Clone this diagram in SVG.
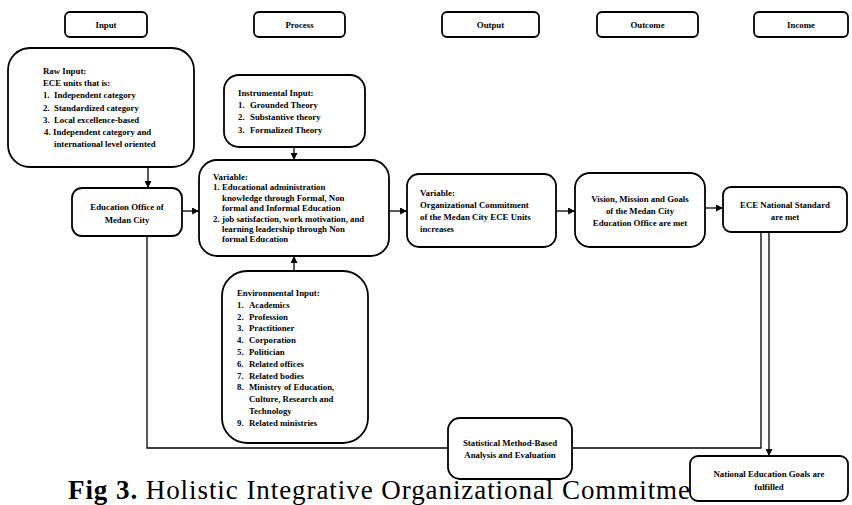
<svg xmlns="http://www.w3.org/2000/svg" width="852" height="505" viewBox="0 0 852 505">
<defs>
<style>
.box{fill:#fff;stroke:#000;stroke-width:1.8}
.t{font-family:"Liberation Serif","Times New Roman",serif;font-weight:bold;font-size:8.8px;fill:#000}
.c{text-anchor:middle}
.ln{fill:none;stroke:#000;stroke-width:1.3}
.cap{font-family:"Liberation Serif","Times New Roman",serif;font-size:27px;fill:#000}
</style>
<marker id="ah" viewBox="0 0 10 10" refX="10" refY="5" markerWidth="7" markerHeight="7" markerUnits="userSpaceOnUse" orient="auto">
<path d="M0,0 L10,5 L0,10 z" fill="#000"/>
</marker>
</defs>
<rect width="852" height="505" fill="#fff"/>

<g id="caption">
<text class="cap" x="68" y="498.5" textLength="622" lengthAdjust="spacing"><tspan font-weight="bold">Fig 3.</tspan> Holistic Integrative Organizational Commitme</text>
</g>

<g id="connectors">
<line class="ln" x1="148" y1="167" x2="148" y2="188" marker-end="url(#ah)"/>
<line class="ln" x1="294" y1="147" x2="294" y2="160" marker-end="url(#ah)"/>
<line class="ln" x1="294" y1="271" x2="294" y2="256" marker-end="url(#ah)"/>
<line class="ln" x1="182" y1="211" x2="199" y2="211" marker-end="url(#ah)"/>
<line class="ln" x1="389" y1="211" x2="407" y2="211" marker-end="url(#ah)"/>
<line class="ln" x1="556" y1="211" x2="575" y2="211" marker-end="url(#ah)"/>
<line class="ln" x1="705" y1="208" x2="723" y2="208" marker-end="url(#ah)"/>
<line class="ln" x1="769" y1="232" x2="769" y2="456" marker-end="url(#ah)"/>
<polyline class="ln" points="147,236 147,448 761,448 761,232"/>
</g>

<g id="h-input"><rect class="box" x="65" y="12" width="82" height="25" rx="5"/><text class="t c" x="106" y="27.5">Input</text></g>
<g id="h-process"><rect class="box" x="254" y="12" width="91" height="25" rx="5"/><text class="t c" x="299.5" y="27.5">Process</text></g>
<g id="h-output"><rect class="box" x="442" y="12" width="97" height="25" rx="5"/><text class="t c" x="490.5" y="27.5">Output</text></g>
<g id="h-outcome"><rect class="box" x="597" y="12" width="101" height="25" rx="5"/><text class="t c" x="647.5" y="27.5">Outcome</text></g>
<g id="h-income"><rect class="box" x="754" y="12" width="94" height="25" rx="5"/><text class="t c" x="801" y="27.5">Income</text></g>

<g id="raw-input">
<rect class="box" x="8" y="48" width="186" height="119" rx="22"/>
<text class="t" x="43" y="74">Raw Input:</text>
<text class="t" x="43" y="86.2">ECE units that is:</text>
<text class="t" x="43" y="98.4">1.</text><text class="t" x="54" y="98.4">Independent category</text>
<text class="t" x="43" y="110.6">2.</text><text class="t" x="54" y="110.6">Standardized category</text>
<text class="t" x="43" y="122.8">3.</text><text class="t" x="54" y="122.8">Local excellence-based</text>
<text class="t" x="44" y="135">4.</text><text class="t" x="53" y="135">Independent category and</text>
<text class="t" x="54" y="147.2">international level oriented</text>
</g>

<g id="edu-office">
<rect class="box" x="72" y="188" width="110" height="48" rx="10"/>
<text class="t c" x="127" y="210">Education Office of</text>
<text class="t c" x="127" y="223">Medan City</text>
</g>

<g id="instrumental">
<rect class="box" x="224" y="75" width="141" height="72" rx="15"/>
<text class="t" x="238" y="96">Instrumental Input:</text>
<text class="t" x="238" y="108.2">1.</text><text class="t" x="250" y="108.2">Grounded Theory</text>
<text class="t" x="238" y="120.4">2.</text><text class="t" x="250" y="120.4">Substantive theory</text>
<text class="t" x="238" y="132.6">3.</text><text class="t" x="250" y="132.6">Formalized Theory</text>
</g>

<g id="variable">
<rect class="box" x="199" y="160" width="190" height="96" rx="18"/>
<text class="t" x="213" y="180">Variable:</text>
<text class="t" x="213" y="190.4">1.</text><text class="t" x="222" y="190.4">Educational administration</text>
<text class="t" x="222" y="200.8">knowledge through Formal, Non</text>
<text class="t" x="222" y="211.2">formal and Informal Education</text>
<text class="t" x="213" y="221.6">2.</text><text class="t" x="222" y="221.6">job satisfaction, work motivation, and</text>
<text class="t" x="222" y="232">learning leadership through Non</text>
<text class="t" x="222" y="242.4">formal Education</text>
</g>

<g id="environmental">
<rect class="box" x="222" y="271" width="146" height="172" rx="25"/>
<text class="t" x="237" y="296">Environmental Input:</text>
<text class="t" x="237" y="307.8">1.</text><text class="t" x="249" y="307.8">Academics</text>
<text class="t" x="237" y="319.6">2.</text><text class="t" x="249" y="319.6">Profession</text>
<text class="t" x="237" y="331.4">3.</text><text class="t" x="249" y="331.4">Practitioner</text>
<text class="t" x="237" y="343.2">4.</text><text class="t" x="249" y="343.2">Corporation</text>
<text class="t" x="237" y="355">5.</text><text class="t" x="249" y="355">Politician</text>
<text class="t" x="237" y="366.8">6.</text><text class="t" x="249" y="366.8">Related offices</text>
<text class="t" x="237" y="378.6">7.</text><text class="t" x="249" y="378.6">Related bodies</text>
<text class="t" x="237" y="390.4">8.</text><text class="t" x="249" y="390.4">Ministry of Education,</text>
<text class="t" x="249" y="402.2">Culture, Research and</text>
<text class="t" x="249" y="414">Technology</text>
<text class="t" x="237" y="425.8">9.</text><text class="t" x="249" y="425.8">Related ministries</text>
</g>

<g id="output-variable">
<rect class="box" x="407" y="174" width="149" height="73" rx="12"/>
<text class="t" x="420" y="196">Variable:</text>
<text class="t" x="420" y="208">Organizational Commitment</text>
<text class="t" x="420" y="220">of the Medan City ECE Units</text>
<text class="t" x="420" y="232">increases</text>
</g>

<g id="vision">
<rect class="box" x="575" y="173" width="130" height="74" rx="15"/>
<text class="t c" x="640" y="202">Vision, Mission and Goals</text>
<text class="t c" x="640" y="214">of the Medan City</text>
<text class="t c" x="640" y="226">Education Office are met</text>
</g>

<g id="ece-standard">
<rect class="box" x="723" y="187" width="124" height="45" rx="8"/>
<text class="t c" x="785" y="208">ECE National Standard</text>
<text class="t c" x="785" y="220">are met</text>
</g>

<g id="statistical">
<rect class="box" x="448" y="418" width="124" height="61" rx="12"/>
<text class="t c" x="510" y="446">Statistical Method-Based</text>
<text class="t c" x="510" y="458">Analysis and Evaluation</text>
</g>

<g id="national-goals">
<rect class="box" x="690" y="456" width="158" height="45" rx="8"/>
<text class="t c" x="769" y="477">National Education Goals are</text>
<text class="t c" x="769" y="490">fulfilled</text>
</g>
</svg>
